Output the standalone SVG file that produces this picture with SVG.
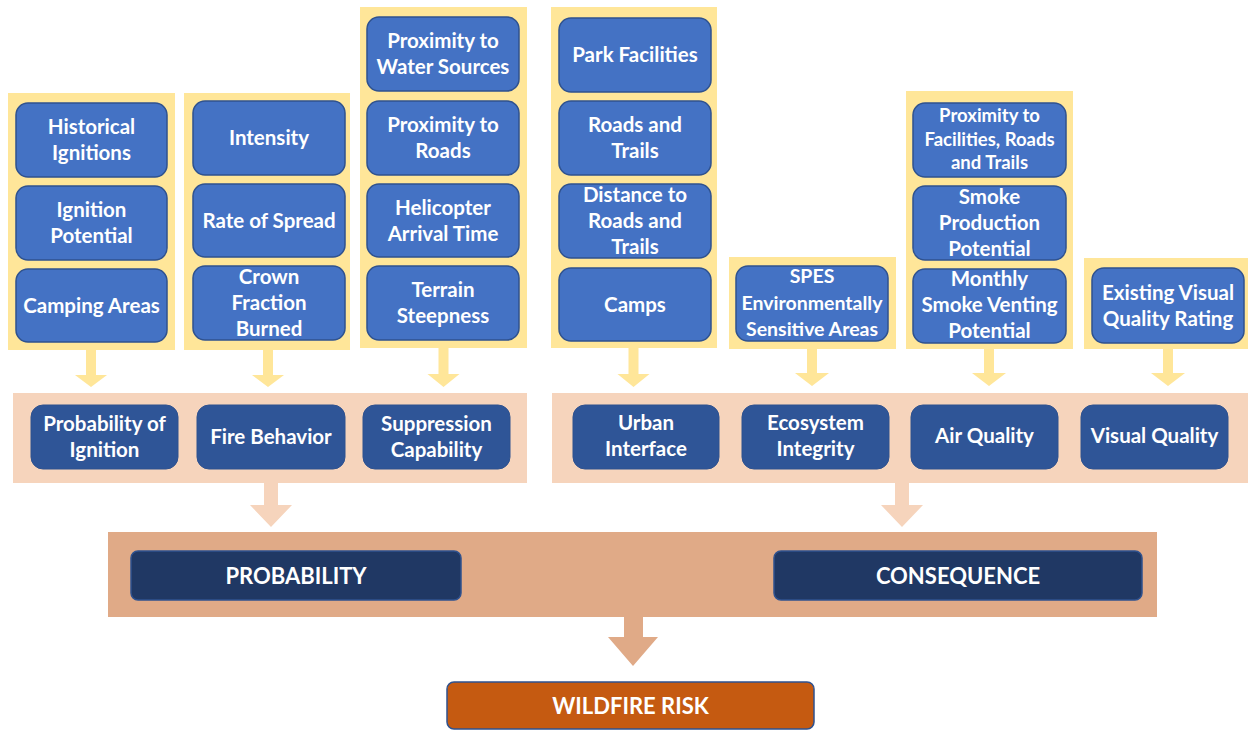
<svg xmlns="http://www.w3.org/2000/svg" width="1248" height="730" viewBox="0 0 1248 730">
<style>
.panel{fill:#FFE699}
.mid{fill:#F6D4BC}
.big{fill:#E0AA87}
.leaf{fill:#4472C4;stroke:#2F528F;stroke-width:1.5}
.cat{fill:#2F5597;stroke:#2F528F;stroke-width:1}
.top{fill:#203864;stroke:#2F528F;stroke-width:1.5}
.risk{fill:#C55A11;stroke:#2F528F;stroke-width:1.5}
text{font-family:Lato,"Liberation Sans",sans-serif;font-weight:bold;fill:#FFFFFF;text-anchor:middle;font-size:20.5px}
.s19{font-size:19.5px}
.s18{font-size:18.5px}
.cap{font-size:22px}
.ya{fill:#FFE699}
.pa{fill:#F6D4BC}
.ba{fill:#E0AA87}
</style>
<rect width="1248" height="730" fill="#FFFFFF"/>

<!-- panels -->
<g id="panels">
<rect class="panel" x="8" y="93" width="167" height="257"/>
<rect class="panel" x="184" y="93" width="166" height="257"/>
<rect class="panel" x="360" y="7" width="167" height="341"/>
<rect class="panel" x="551" y="7" width="166" height="341"/>
<rect class="panel" x="729" y="257" width="167" height="92"/>
<rect class="panel" x="906" y="91" width="167" height="258"/>
<rect class="panel" x="1084" y="258" width="164" height="91"/>
<rect class="mid" x="13" y="393" width="514" height="90"/>
<rect class="mid" x="552" y="393" width="696" height="90"/>
<rect class="big" x="108" y="532" width="1049" height="85"/>
</g>

<!-- connectors -->
<g id="connectors">
<path class="ya" d="M86,349 H96 V375 H107 L91,387 L75,375 H86 Z"/>
<path class="ya" d="M263,349 H273 V375 H284 L268,387 L252,375 H263 Z"/>
<path class="ya" d="M438.5,348 H448.5 V374 H459.5 L443.5,387 L427.5,374 H438.5 Z"/>
<path class="ya" d="M628.5,348 H638.5 V374 H649.5 L633.5,387 L617.5,374 H628.5 Z"/>
<path class="ya" d="M807,349 H817 V373 H829 L812,386 L795,373 H807 Z"/>
<path class="ya" d="M984,349 H994 V373 H1006 L989,386 L972,373 H984 Z"/>
<path class="ya" d="M1163,349 H1173 V373 H1185 L1168,386 L1151,373 H1163 Z"/>
<path class="pa" d="M264,483 H278 V505 H292 L271,527 L250,505 H264 Z"/>
<path class="pa" d="M895,483 H909 V505 H923 L902,527 L881,505 H895 Z"/>
<path class="ba" d="M624,617 H643 V637 H658 L633,666 L608,637 H624 Z"/>
</g>

<!-- column 1 -->
<g id="historical-ignitions"><rect class="leaf" x="16" y="103" width="151" height="74" rx="12"/><text x="91.5" y="134">Historical</text><text x="91.5" y="160">Ignitions</text></g>
<g id="ignition-potential"><rect class="leaf" x="16" y="186" width="151" height="74" rx="12"/><text x="91.5" y="217">Ignition</text><text x="91.5" y="243">Potential</text></g>
<g id="camping-areas"><rect class="leaf" x="16" y="269" width="151" height="73" rx="12"/><text x="91.5" y="313">Camping Areas</text></g>

<!-- column 2 -->
<g id="intensity"><rect class="leaf" x="193" y="101" width="152" height="74" rx="12"/><text x="269" y="145">Intensity</text></g>
<g id="rate-of-spread"><rect class="leaf" x="193" y="184" width="152" height="73" rx="12"/><text x="269" y="228">Rate of Spread</text></g>
<g id="crown-fraction-burned"><rect class="leaf" x="193" y="266" width="152" height="74" rx="12"/><text x="269" y="284">Crown</text><text x="269" y="310">Fraction</text><text x="269" y="336">Burned</text></g>

<!-- column 3 -->
<g id="proximity-water"><rect class="leaf" x="367" y="17" width="152" height="74" rx="12"/><text x="443" y="48">Proximity to</text><text x="443" y="74">Water Sources</text></g>
<g id="proximity-roads"><rect class="leaf" x="367" y="101" width="152" height="74" rx="12"/><text x="443" y="132">Proximity to</text><text x="443" y="158">Roads</text></g>
<g id="helicopter-arrival"><rect class="leaf" x="367" y="184" width="152" height="73" rx="12"/><text x="443" y="215">Helicopter</text><text x="443" y="241">Arrival Time</text></g>
<g id="terrain-steepness"><rect class="leaf" x="367" y="266" width="152" height="74" rx="12"/><text x="443" y="297">Terrain</text><text x="443" y="323">Steepness</text></g>

<!-- column 4 -->
<g id="park-facilities"><rect class="leaf" x="559" y="18" width="152" height="74" rx="12"/><text x="635" y="62">Park Facilities</text></g>
<g id="roads-trails"><rect class="leaf" x="559" y="101" width="152" height="74" rx="12"/><text x="635" y="132">Roads and</text><text x="635" y="158">Trails</text></g>
<g id="distance-roads-trails"><rect class="leaf" x="559" y="184" width="152" height="74" rx="12"/><text x="635" y="202">Distance to</text><text x="635" y="228">Roads and</text><text x="635" y="254">Trails</text></g>
<g id="camps"><rect class="leaf" x="559" y="268" width="152" height="73" rx="12"/><text x="635" y="312">Camps</text></g>

<!-- SPES -->
<g id="spes"><rect class="leaf" x="736" y="266" width="152" height="75" rx="12"/><text class="s19" x="812" y="283">SPES</text><text class="s19" x="812" y="310">Environmentally</text><text class="s19" x="812" y="336">Sensitive Areas</text></g>

<!-- air column -->
<g id="proximity-facilities"><rect class="leaf" x="913" y="103" width="153" height="74" rx="12"/><text class="s18" x="989.5" y="122">Proximity to</text><text class="s18" x="989.5" y="146">Facilities, Roads</text><text class="s18" x="989.5" y="169">and Trails</text></g>
<g id="smoke-production"><rect class="leaf" x="913" y="186" width="153" height="74" rx="12"/><text x="989.5" y="204">Smoke</text><text x="989.5" y="230">Production</text><text x="989.5" y="256">Potential</text></g>
<g id="monthly-smoke-venting"><rect class="leaf" x="913" y="269" width="153" height="74" rx="12"/><text x="989.5" y="286">Monthly</text><text x="989.5" y="312">Smoke Venting</text><text x="989.5" y="338">Potential</text></g>

<!-- visual -->
<g id="existing-visual"><rect class="leaf" x="1092" y="268" width="152" height="75" rx="12"/><text x="1168" y="300">Existing Visual</text><text x="1168" y="326">Quality Rating</text></g>

<!-- mid categories -->
<g id="probability-of-ignition"><rect class="cat" x="31" y="405" width="147" height="64" rx="12"/><text x="104.5" y="431">Probability of</text><text x="104.5" y="457">Ignition</text></g>
<g id="fire-behavior"><rect class="cat" x="197" y="405" width="148" height="64" rx="12"/><text x="271" y="444">Fire Behavior</text></g>
<g id="suppression-capability"><rect class="cat" x="363" y="405" width="147" height="64" rx="12"/><text x="436.5" y="431">Suppression</text><text x="436.5" y="457">Capability</text></g>
<g id="urban-interface"><rect class="cat" x="573" y="405" width="146" height="64" rx="12"/><text x="646" y="430">Urban</text><text x="646" y="456">Interface</text></g>
<g id="ecosystem-integrity"><rect class="cat" x="742" y="405" width="147" height="64" rx="12"/><text x="815.5" y="430">Ecosystem</text><text x="815.5" y="456">Integrity</text></g>
<g id="air-quality"><rect class="cat" x="911" y="405" width="147" height="64" rx="12"/><text x="984.5" y="443">Air Quality</text></g>
<g id="visual-quality"><rect class="cat" x="1081" y="405" width="147" height="64" rx="12"/><text x="1154.5" y="443">Visual Quality</text></g>

<!-- top level -->
<g id="probability"><rect class="top" x="131" y="551" width="330" height="49" rx="7"/><text class="cap" x="296" y="583.5">PROBABILITY</text></g>
<g id="consequence"><rect class="top" x="774" y="551" width="368" height="49" rx="7"/><text class="cap" x="958" y="583.5">CONSEQUENCE</text></g>
<g id="wildfire-risk"><rect class="risk" x="447" y="682" width="367" height="47" rx="7"/><text class="cap" x="630.5" y="713.5">WILDFIRE RISK</text></g>
</svg>
